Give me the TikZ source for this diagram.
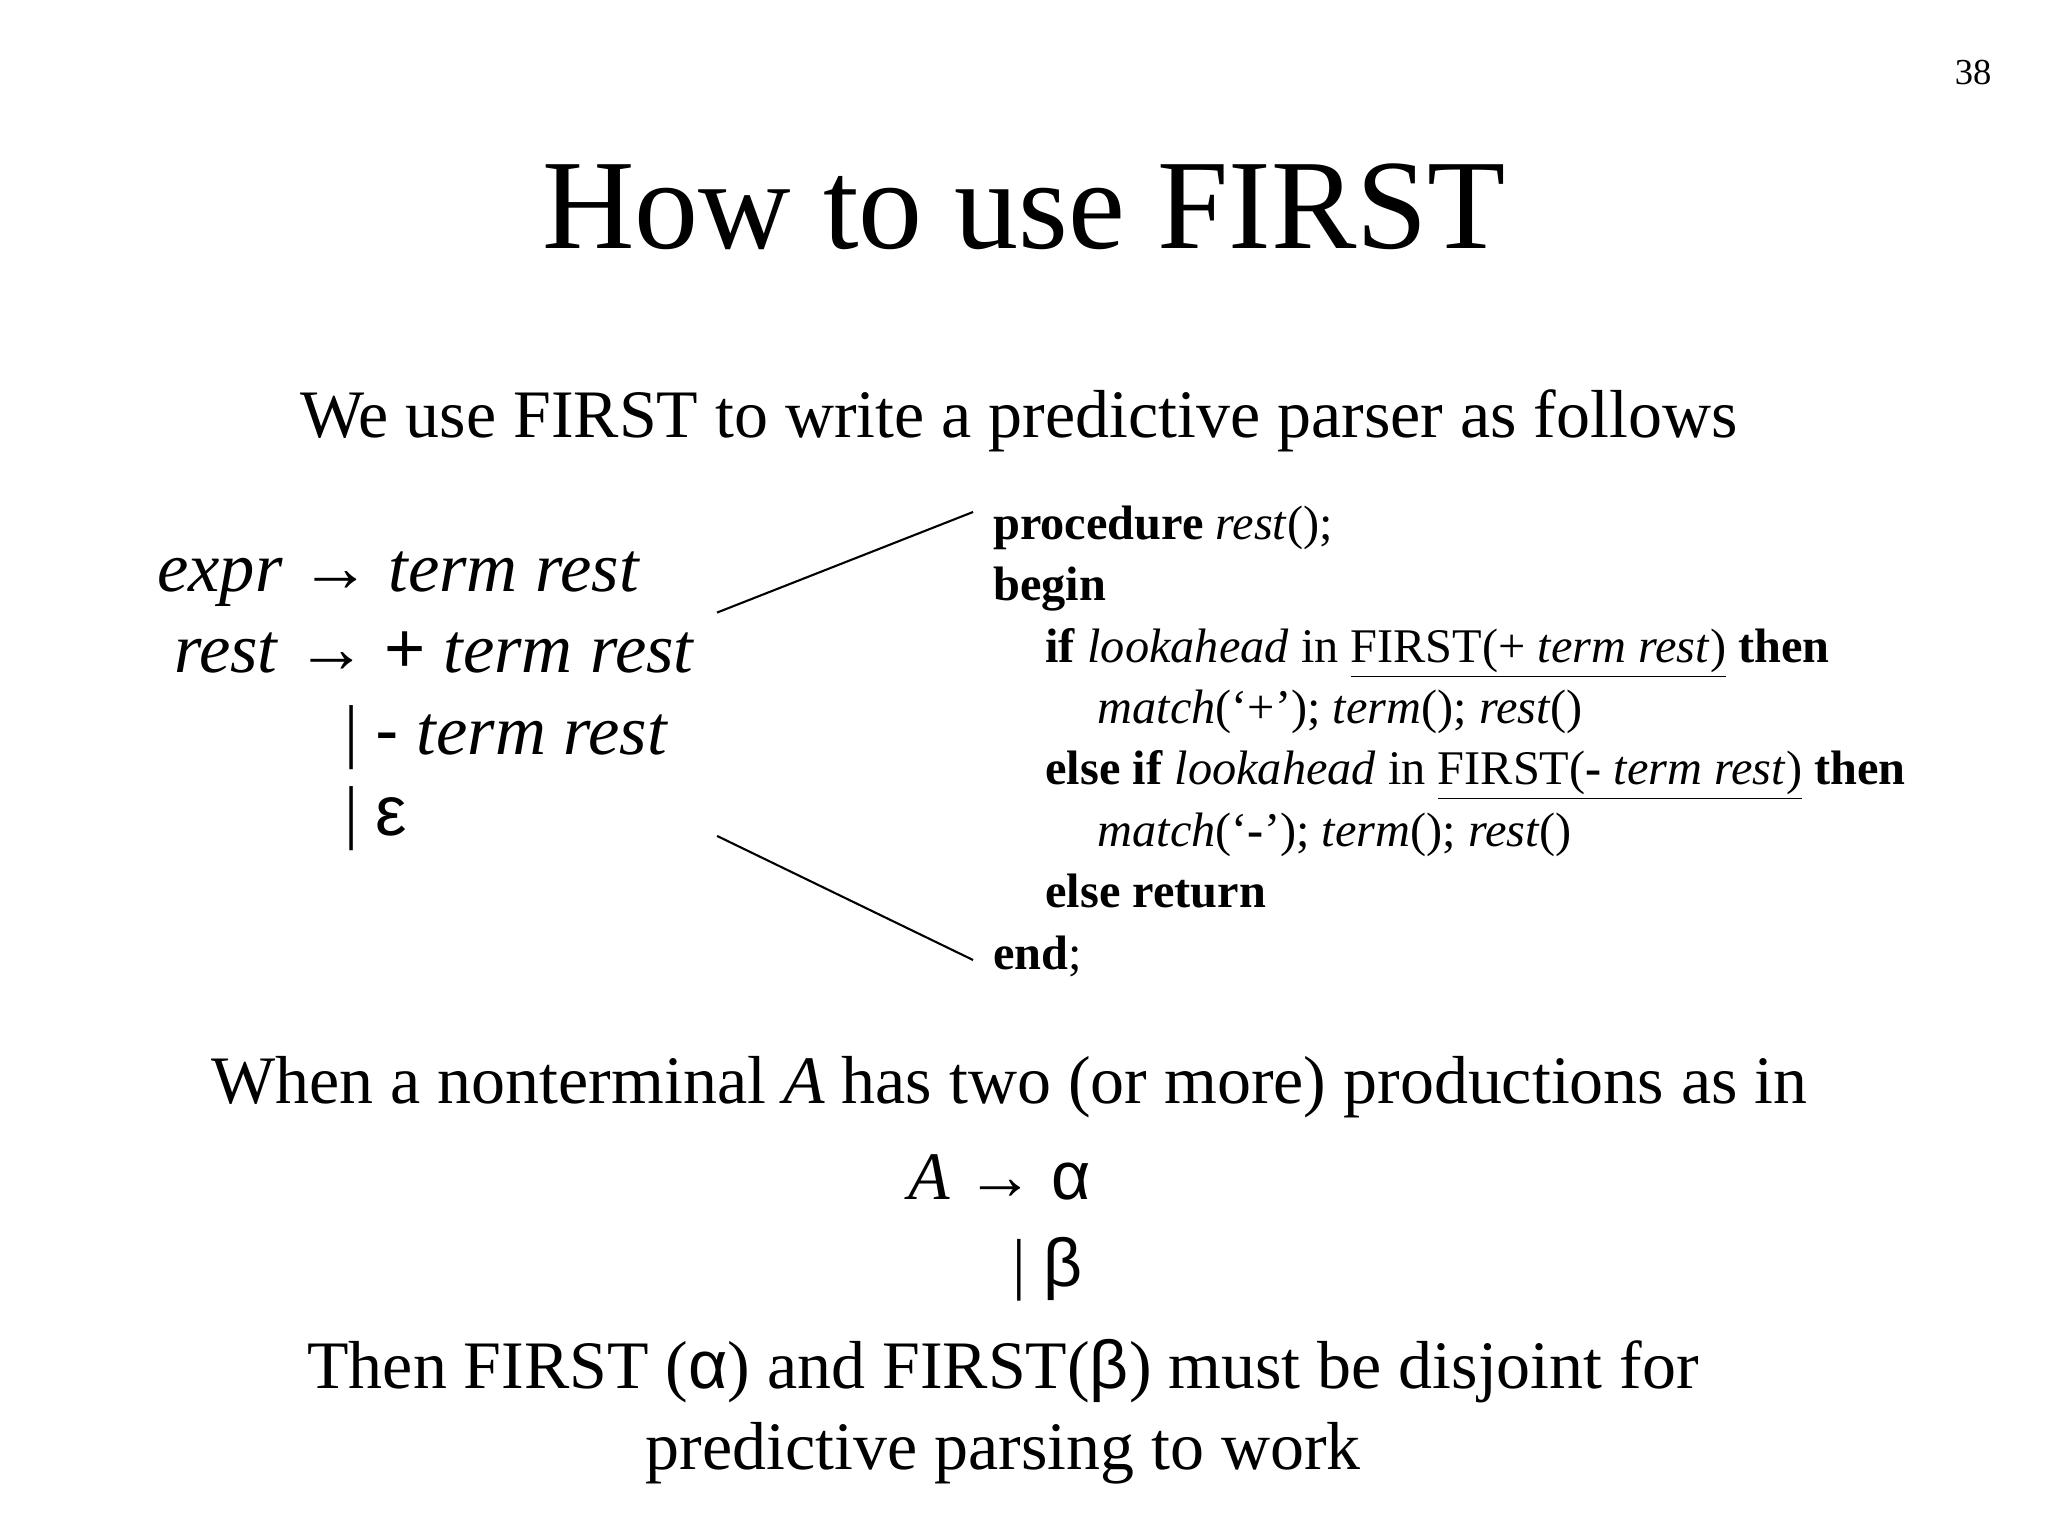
\documentclass[tikz,border=0pt]{standalone}
\usepackage{fontspec}
\setmainfont{Liberation Serif}
\newfontfamily\symf{Liberation Sans}
\begin{document}
\begin{tikzpicture}[x=0.5pt,y=-0.5pt,
  t/.style={anchor=base west,inner sep=0},
  tc/.style={anchor=base,inner sep=0},
  gram/.style={t,font=\fontsize{27}{30}\selectfont},
  code/.style={t,font=\fontsize{18.5}{20}\selectfont},
  body/.style={tc,font=\fontsize{26}{30}\selectfont}]
\useasboundingbox (0,0) rectangle (1568,1176);
\node[anchor=base east,inner sep=0,font=\fontsize{14}{16}\selectfont] (pg) at (1525,65) {38};
\node[tc,font=\fontsize{49}{55}\selectfont] (title) at (784,190) {How to use FIRST};
\node[body] (sub) at (780,335) {We use FIRST to write a predictive parser as follows};
\node[gram] (g1) at (120,453) {\textit{expr} → \textit{term rest}};
\node[gram] (g2) at (133,515) {\textit{rest} → {\symf +} \textit{term rest}};
\node[gram] (g3) at (263,578) {| {\symf -} \textit{term rest}};
\node[gram] (g4) at (263,640) {| {\symf ε}};
\node[code] (c1) at (760,413) {\textbf{procedure} \textit{rest}();};
\node[code] (c2) at (760,460) {\textbf{begin}};
\node[code] (c3) at (800,507) {\textbf{if} \textit{lookahead} in \underline{FIRST(+ \textit{term rest})} \textbf{then}};
\node[code] (c4) at (840,554) {\textit{match}(‘+’); \textit{term}(); \textit{rest}()};
\node[code] (c5) at (800,601) {\textbf{else if} \textit{lookahead} in \underline{FIRST(\textbf{-} \textit{term rest})} \textbf{then}};
\node[code] (c6) at (840,648) {\textit{match}(‘\textbf{-}’); \textit{term}(); \textit{rest}()};
\node[code] (c7) at (800,695) {\textbf{else return}};
\node[code] (c8) at (760,742) {\textbf{end};};
\coordinate (a1) at (549,469); \coordinate (b1) at (745,392);
\coordinate (a2) at (549,640); \coordinate (b2) at (745,735);
\draw[line width=0.8pt] (a1) -- (b1);
\draw[line width=0.8pt] (a2) -- (b2);
\node[body] (w) at (773,845) {When a nonterminal \textit{A} has two (or more) productions as in};
\node[t,font=\fontsize{26}{30}\selectfont] (p1) at (695,918) {\textit{A} → {\symf α}};
\node[t,font=\fontsize{26}{30}\selectfont] (p2) at (775,985) {| {\symf β}};
\node[body] (th1) at (768,1063) {Then FIRST ({\symf α}) and FIRST({\symf β}) must be disjoint for};
\node[body] (th2) at (768,1125) {predictive parsing to work};
\end{tikzpicture}
\end{document}
